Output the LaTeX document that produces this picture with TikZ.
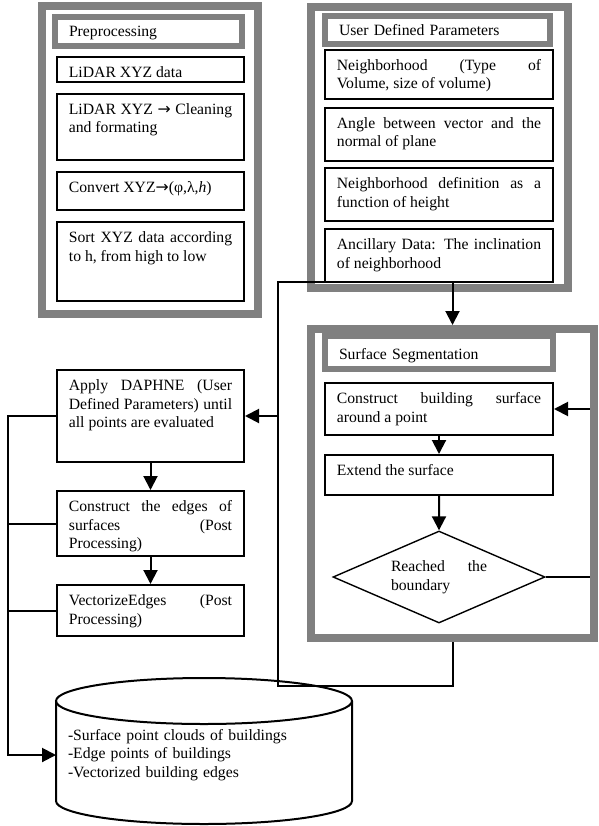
\documentclass[tikz,border=0pt]{standalone}
\usepackage{fontspec}
\setmainfont{Liberation Serif}
\newfontfamily\arrowfont{DejaVu Sans}
\usetikzlibrary{arrows.meta,shapes.geometric}

\begin{document}
\begin{tikzpicture}[x=1pt,y=-1pt,>={Triangle[length=14pt,width=14pt]},
  font=\fontsize{15.7}{18.6}\selectfont,
  frame/.style={draw=gray,line width=8pt},
  titlebox/.style={draw=gray,line width=6pt,anchor=north west,inner xsep=14pt,inner ysep=0pt,align=left},
  stepbox/.style={draw,line width=1.8pt,anchor=north west,inner xsep=12pt,inner ysep=0pt,
    text width=163.2pt,text height=20.5pt,text depth=#1,align=justify},
  wide/.style={text width=204.2pt},
  link/.style={line width=2pt}]
\useasboundingbox (0,0) rectangle (598,826);
\node  (pre) at (150,160) [frame,minimum width=216pt,minimum height=308pt] {};
\node (pretitle) at (52,14) [titlebox,text width=159pt,text height=20pt,text depth=9pt] {Preprocessing};
\node (pre1) at (56,56)  [stepbox=4.7pt]  {LiDAR XYZ data};
\node (pre2) at (56,93)  [stepbox=45.7pt] {LiDAR XYZ {\arrowfont →} Cleaning\linebreak and formating};
\node (pre3) at (56,171) [stepbox=17.7pt] {Convert XYZ{\arrowfont →}(φ,λ,\textit{h})};
\node (pre4) at (56,221) [stepbox=58.7pt] {Sort XYZ data according\linebreak to h, from high to low};
\node (user) at (439.5,147.5) [frame,minimum width=257pt,minimum height=281pt] {};
\node (usertitle) at (322,13) [titlebox,text width=197pt,text height=20pt,text depth=8pt] {User Defined Parameters};
\node (par1) at (324,49)  [stepbox=28.7pt,wide] {Neighborhood (Type of\linebreak Volume, size of volume)};
\node (par2) at (324,107) [stepbox=32.7pt,wide] {Angle between vector and the\linebreak normal of plane};
\node (par3) at (324,167) [stepbox=32.7pt,wide] {Neighborhood definition as a\linebreak function of height};
\node (par4) at (324,228) [stepbox=32.7pt,wide] {Ancillary Data: The inclination\linebreak of neighborhood};
\node (segtitle) at (322,333) [titlebox,text width=200pt,text height=23pt,text depth=10pt] {Surface Segmentation};
\node (seg1) at (324,382) [stepbox=31.7pt,wide] {Construct building surface\linebreak around a point};
\node (seg2) at (324,454) [stepbox=19.7pt,wide] {Extend the surface};
\node (chk) at (439,577) [diamond,draw,line width=1.4pt,minimum width=212pt,minimum height=92pt,aspect=2.3,
  inner sep=0pt,text width=96pt,align=justify] {Reached the\linebreak boundary};
\node (apply) at (56,369) [stepbox=71.7pt] {Apply DAPHNE (User\linebreak Defined Parameters) until\linebreak all points are evaluated};
\node (edges) at (56,490) [stepbox=44.7pt] {Construct the edges of\linebreak surfaces (Post\linebreak Processing)};
\node  (vect) at (56,584) [stepbox=30.7pt] {VectorizeEdges (Post\linebreak Processing)};
\node    (db) at (204,755) [outer sep=0pt,inner sep=0pt,minimum width=296pt,text width=272pt,align=left]
  {-Surface point clouds of buildings\\-Edge points of buildings\\-Vectorized building edges};
\draw [link] (204,701) ellipse [x radius=148pt,y radius=23pt];
\draw [link] (56,701) -- (56,801) arc [start angle=180,end angle=360,x radius=148pt,y radius=23pt] -- (352,701);
\draw [->,link] (seg1) -- (seg2);
\draw [->,link] (seg2) -- (chk);
\draw [->,link] (chk.east) -- ++(48,0) |- (seg1.east);
\node   (seg) at (452.5,483.5) [frame,minimum width=283pt,minimum height=309pt] {};
\coordinate (loopbot) at (278,686);
\coordinate (looptop) at (278,282);
\coordinate (bus) at (8,0);
\draw [->,link] (seg.south) |- (loopbot) -- (looptop) -| (seg.north);
\draw [->,link] (looptop |- apply.east) -- (apply.east);
\draw [->,link] (apply) -- (edges);
\draw [->,link] (edges) -- (vect);
\draw [->,link] (apply.west) -| (bus |- db.west) -- (db.west);
\draw [link] (edges.west) -- (edges.west -| bus);
\draw [link] (vect.west) -- (vect.west -| bus);
\end{tikzpicture}
\end{document}
